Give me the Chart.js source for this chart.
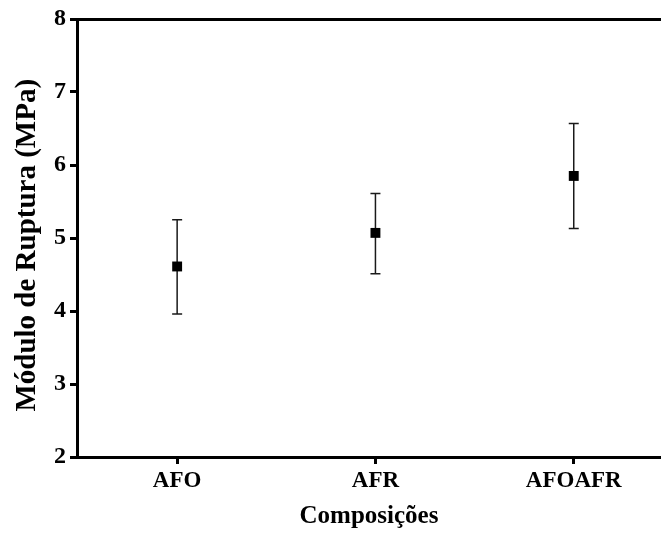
<!DOCTYPE html>
<html>
<head>
<meta charset="utf-8">
<script src="https://cdn.jsdelivr.net/npm/chart.js@4.4.0/dist/chart.umd.min.js"></script>
<style>
  html, body { margin: 0; padding: 0; background: #fff; overflow: hidden; }
  #wrap { width: 661px; height: 537px; position: relative; }
  #grafico { display: block; }
</style>
</head>
<body>
<div id="wrap"><canvas id="grafico"></canvas></div>
<script>
// valores
const composicoes = ["AFO", "AFR", "AFOAFR"];
const modulo = [4.61, 5.07, 5.85];
const erroSup = [5.25, 5.61, 6.57];
const erroInf = [3.96, 4.51, 5.13];
const yTicks = [2, 3, 4, 5, 6, 7, 8];

const fonte = "'Liberation Serif', 'Times New Roman', serif";

// barras de erro desenhadas com as escalas do chart
const barrasErro = {
  id: "barrasErro",
  beforeDatasetsDraw(chart) {
    const ctx = chart.ctx;
    const xs = chart.scales.x;
    const ys = chart.scales.y;
    ctx.save();
    ctx.strokeStyle = "#1a1a1a";
    ctx.lineWidth = 1.5;
    composicoes.forEach((c, i) => {
      const px = xs.getPixelForValue(i);
      const top = ys.getPixelForValue(erroSup[i]);
      const bot = ys.getPixelForValue(erroInf[i]);
      ctx.beginPath();
      ctx.moveTo(px, top);
      ctx.lineTo(px, bot);
      ctx.moveTo(px - 5, top);
      ctx.lineTo(px + 5, top);
      ctx.moveTo(px - 5, bot);
      ctx.lineTo(px + 5, bot);
      ctx.stroke();
    });
    ctx.restore();
  }
};

const ctx = document.getElementById("grafico").getContext("2d");
const chart = new Chart(ctx, {
  type: "scatter",
  data: {
    datasets: [{
      label: "Módulo de Ruptura",
      data: composicoes.map((c, i) => ({ x: i, y: modulo[i] })),
      pointStyle: "rect",
      pointRadius: 7,
      pointHoverRadius: 7,
      backgroundColor: "#000",
      borderColor: "#000",
      borderWidth: 0
    }]
  },
  options: {
    responsive: true,
    maintainAspectRatio: false,
    animation: false,
    layout: { padding: 0, autoPadding: false },
    plugins: {
      legend: { display: false },
      tooltip: { enabled: false }
    },
    scales: {
      x: {
        type: "linear",
        position: "bottom",
        min: -0.505,
        max: 2.44,
        afterBuildTicks: (scale) => {
          scale.ticks = composicoes.map((c, i) => ({ value: i }));
        },
        afterFit: (scale) => { scale.height = 80; },
        border: { display: true, color: "#000", width: 3 },
        grid: { drawOnChartArea: false, drawTicks: true, tickLength: 7, tickWidth: 3, color: "#000" },
        ticks: {
          color: "#000",
          padding: 3,
          font: { family: fonte, size: 23, weight: "bold" },
          callback: (v) => composicoes[v] ?? ""
        },
        title: {
          display: true,
          text: "Composições",
          color: "#000",
          font: { family: fonte, size: 25, weight: "bold" },
          padding: { top: 0, bottom: 5 }
        }
      },
      x2: {
        type: "linear",
        position: "top",
        min: -0.505,
        max: 2.44,
        afterFit: (scale) => { scale.height = 19; },
        border: { display: true, color: "#000", width: 3 },
        grid: { drawOnChartArea: false, drawTicks: false },
        ticks: { display: false }
      },
      y: {
        min: 2,
        max: 8,
        afterBuildTicks: (scale) => {
          scale.ticks = yTicks.map(v => ({ value: v }));
        },
        afterFit: (scale) => { scale.width = 77; },
        border: { display: true, color: "#000", width: 3 },
        grid: { drawOnChartArea: false, drawTicks: true, tickLength: 7, tickWidth: 3, color: "#000" },
        ticks: {
          color: "#000",
          padding: 4,
          font: { family: fonte, size: 24, weight: "bold" }
        },
        title: {
          display: true,
          text: "Módulo de Ruptura (MPa)\u00a0\u00a0",
          color: "#000",
          font: { family: fonte, size: 29, weight: "bold" },
          padding: { top: 10, bottom: 0 }
        }
      }
    }
  },
  plugins: [barrasErro]
});
</script>
</body>
</html>
